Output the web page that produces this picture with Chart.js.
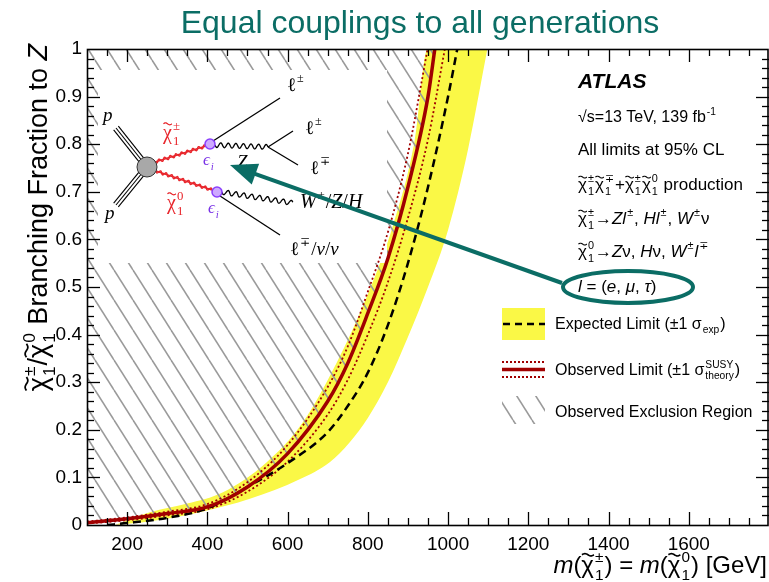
<!DOCTYPE html>
<html>
<head>
<meta charset="utf-8">
<script src="https://cdn.jsdelivr.net/npm/chart.js@4.4.1/dist/chart.umd.min.js"></script>
<style>
  html, body { margin: 0; padding: 0; background: #fff; }
</style>
</head>
<body>
<canvas id="limitChart" width="769" height="582"></canvas>
<script>
// axis ranges and tick labels
var xMin = 100, xMax = 1800;
var xTicks = [200, 400, 600, 800, 1000, 1200, 1400, 1600];
var xTickLabels = ['200', '400', '600', '800', '1000', '1200', '1400', '1600'];
var yTicks = [0, 0.1, 0.2, 0.3, 0.4, 0.5, 0.6, 0.7, 0.8, 0.9, 1];
var yTickLabels = ['0', '0.1', '0.2', '0.3', '0.4', '0.5', '0.6', '0.7', '0.8', '0.9', '1'];

// observed limit (mass in GeV, branching fraction to Z)
var obsMass = [100, 200, 300, 400, 500, 600, 700, 750, 800, 850, 900, 950, 967];
var obsBF = [0.005, 0.013, 0.024, 0.038, 0.08, 0.15, 0.26, 0.34, 0.445, 0.56, 0.71, 0.9, 1.0];

// observed +/- 1 sigma theory
var obsUpMass = [100, 200, 300, 400, 500, 600, 700, 750, 800, 850, 900, 949];
var obsUpBF = [0.007, 0.016, 0.028, 0.044, 0.09, 0.168, 0.29, 0.375, 0.49, 0.615, 0.78, 1.0];
var obsDownMass = [100, 200, 300, 400, 500, 600, 700, 750, 800, 850, 900, 950, 992];
var obsDownBF = [0.003, 0.01, 0.02, 0.033, 0.07, 0.133, 0.232, 0.305, 0.4, 0.51, 0.645, 0.81, 1.0];

// expected limit
var expMass = [150, 200, 300, 400, 500, 600, 700, 750, 800, 850, 900, 950, 1000, 1023];
var expBF = [0.0, 0.004, 0.015, 0.035, 0.08, 0.13, 0.195, 0.25, 0.32, 0.42, 0.55, 0.71, 0.9, 1.0];

// expected +/- 1 sigma band edges
var bandHighMass = [170, 257, 350, 439, 548, 638, 723, 800, 862, 917, 949, 1098];
var bandHighBF = [0.0, 0.027, 0.045, 0.069, 0.132, 0.216, 0.342, 0.485, 0.627, 0.809, 1.0, 1.0];
var bandLowMass = [170, 257, 381, 506, 630, 705, 755, 800, 850, 900, 950, 1000, 1050, 1098];
var bandLowBF = [0.0, 0.008, 0.027, 0.055, 0.096, 0.132, 0.174, 0.225, 0.3, 0.395, 0.5, 0.62, 0.79, 1.0];

var SANS = '"Liberation Sans", "DejaVu Sans", Arial, sans-serif';
var SERIF = '"Liberation Serif", "DejaVu Serif", serif';
var TEAL = '#0b6d65';
var DARKRED = '#a00000';
var YELLOW = 'rgb(250, 248, 70)';
var HATCH = '#9a9a9a';

function pts(ms, bs) {
  return ms.map(function (m, i) { return { x: m, y: bs[i] }; });
}

function makeHatch() {
  var w = 19, h = 30;
  var c = document.createElement('canvas');
  c.width = w; c.height = h;
  var g = c.getContext('2d');
  g.strokeStyle = HATCH;
  g.lineWidth = 1.6;
  [-w, 0, w].forEach(function (o) {
    g.beginPath(); g.moveTo(o, 0); g.lineTo(o + w, h); g.stroke();
  });
  return g.createPattern(c, 'repeat');
}
var hatchPattern = makeHatch();

// little wave drawn over chi
function tilde(ctx, cx, cy, w, fs) {
  ctx.save();
  ctx.strokeStyle = ctx.fillStyle;
  ctx.lineWidth = Math.max(1, fs * 0.065);
  ctx.beginPath();
  for (var i = 0; i <= 16; i++) {
    var t = i / 16;
    var px = cx - w / 2 + t * w;
    var py = cy - Math.sin(t * 2 * Math.PI) * fs * 0.05;
    if (i) ctx.lineTo(px, py); else ctx.moveTo(px, py);
  }
  ctx.stroke();
  ctx.restore();
}

// text runs with italic, chi-tilde and stacked sup/sub
function run(ctx, parts, x, y, fs, fam, draw) {
  var x0 = x;
  ctx.textAlign = 'left';
  ctx.textBaseline = 'alphabetic';
  parts.forEach(function (p) {
    if (typeof p === 'string') p = { t: p };
    var style = p.b ? 'bold italic ' : p.it ? 'italic ' : '';
    if (p.chi) {
      ctx.font = style + fs + 'px ' + fam;
      var cw = ctx.measureText('\u03c7').width;
      if (draw) {
        ctx.fillText('\u03c7', x, y);
        tilde(ctx, x + cw * 0.52, y - fs * 0.76, cw * 0.95, fs);
      }
      x += cw;
    }
    if (p.t) {
      ctx.font = style + fs + 'px ' + fam;
      if (draw) ctx.fillText(p.t, x, y);
      x += ctx.measureText(p.t).width;
    }
    if (p.sup || p.sub) {
      var s = fs * 0.64;
      ctx.font = (p.ssIt ? 'italic ' : '') + s + 'px ' + fam;
      var w1 = p.sup ? ctx.measureText(p.sup).width : 0;
      var w2 = p.sub ? ctx.measureText(p.sub).width : 0;
      if (draw) {
        if (p.sup) ctx.fillText(p.sup, x + 1, y - fs * 0.45);
        if (p.sub) ctx.fillText(p.sub, x + 1, y + fs * 0.28);
      }
      x += Math.max(w1, w2) + 2;
    }
  });
  return x - x0;
}

function rich(ctx, parts, x, y, fs, align, fam) {
  fam = fam || SANS;
  var w = run(ctx, parts, 0, y, fs, fam, false);
  var sx = align === 'right' ? x - w : align === 'center' ? x - w / 2 : x;
  run(ctx, parts, sx, y, fs, fam, true);
  return w;
}

function wavy(ctx, x1, y1, x2, y2, amp, wl) {
  var dx = x2 - x1, dy = y2 - y1, L = Math.hypot(dx, dy);
  var ux = dx / L, uy = dy / L, nx = -uy, ny = ux;
  var n = Math.max(1, Math.round(L / wl));
  ctx.beginPath();
  for (var s = 0; s <= L; s += 0.5) {
    var o = amp * Math.sin(2 * Math.PI * n * s / L);
    var px = x1 + ux * s + nx * o, py = y1 + uy * s + ny * o;
    if (s === 0) ctx.moveTo(px, py); else ctx.lineTo(px, py);
  }
  ctx.stroke();
}

function line(ctx, x1, y1, x2, y2) {
  ctx.beginPath(); ctx.moveTo(x1, y1); ctx.lineTo(x2, y2); ctx.stroke();
}

function triple(ctx, x1, y1, x2, y2) {
  var dx = x2 - x1, dy = y2 - y1, L = Math.hypot(dx, dy);
  var nx = -dy / L * 3, ny = dx / L * 3;
  [-1, 0, 1].forEach(function (k) {
    line(ctx, x1 + nx * k, y1 + ny * k, x2 + nx * k, y2 + ny * k);
  });
}

// Feynman diagram inset, covers part of the hatch
function drawInset(ctx) {
  ctx.save();
  ctx.fillStyle = '#fff';
  ctx.fillRect(98, 70, 289, 193);

  ctx.strokeStyle = '#000';
  ctx.lineWidth = 1.1;
  triple(ctx, 147, 167, 116, 128);
  triple(ctx, 147, 167, 116, 205);

  // outgoing legs
  ctx.lineWidth = 1.3;
  line(ctx, 213, 141, 280, 98);
  wavy(ctx, 215, 145, 268, 147, 2.4, 8);
  line(ctx, 268, 147, 293, 131);
  line(ctx, 268, 147, 298, 165);
  wavy(ctx, 222, 192, 293, 203, 2.4, 8);
  line(ctx, 220, 196, 280, 235);

  // gauginos
  ctx.strokeStyle = '#e8262c';
  ctx.lineWidth = 1.4;
  line(ctx, 155, 162, 206, 146);
  wavy(ctx, 155, 162, 206, 146, 1.6, 6);
  line(ctx, 156, 171, 212, 190);
  wavy(ctx, 156, 171, 212, 190, 1.6, 6);

  // blob and vertices
  ctx.fillStyle = '#a8a8a8';
  ctx.strokeStyle = '#333';
  ctx.lineWidth = 1;
  ctx.beginPath(); ctx.arc(147, 167, 10, 0, 2 * Math.PI); ctx.fill(); ctx.stroke();
  ctx.fillStyle = '#cda9ff';
  ctx.strokeStyle = '#8a3ffc';
  ctx.lineWidth = 1.5;
  ctx.beginPath(); ctx.arc(210, 144, 5, 0, 2 * Math.PI); ctx.fill(); ctx.stroke();
  ctx.beginPath(); ctx.arc(217, 192, 5, 0, 2 * Math.PI); ctx.fill(); ctx.stroke();

  // labels
  ctx.fillStyle = '#000';
  rich(ctx, [{ t: 'p', it: 1 }], 103, 121, 19, 'left', SERIF);
  rich(ctx, [{ t: 'p', it: 1 }], 105, 219, 19, 'left', SERIF);
  rich(ctx, [{ t: '\u2113', sup: '\u00b1' }], 287, 91, 19, 'left', SERIF);
  rich(ctx, [{ t: '\u2113', sup: '\u00b1' }], 305, 134, 19, 'left', SERIF);
  rich(ctx, [{ t: '\u2113', sup: '\u2213' }], 310, 174, 19, 'left', SERIF);
  rich(ctx, [{ t: 'Z', it: 1 }], 237, 168, 19, 'left', SERIF);
  rich(ctx, [{ t: 'W', it: 1, sup: '\u00b1' }, { t: '/' }, { t: 'Z', it: 1 }, { t: '/' }, { t: 'H', it: 1 }], 300, 208, 20, 'left', SERIF);
  rich(ctx, [{ t: '\u2113', sup: '\u2213' }, { t: '/' }, { t: '\u03bd', it: 1 }, { t: '/' }, { t: '\u03bd', it: 1 }], 290, 255, 19, 'left', SERIF);

  ctx.fillStyle = '#e8262c';
  rich(ctx, [{ chi: 1, sup: '\u00b1', sub: '1' }], 163, 139, 20, 'left', SERIF);
  rich(ctx, [{ chi: 1, sup: '0', sub: '1' }], 167, 209, 20, 'left', SERIF);
  ctx.fillStyle = '#7a33e6';
  rich(ctx, [{ t: '\u03f5', it: 1, sub: 'i', ssIt: 1 }], 203, 165, 17, 'left', SERIF);
  rich(ctx, [{ t: '\u03f5', it: 1, sub: 'i', ssIt: 1 }], 208, 213, 17, 'left', SERIF);
  ctx.restore();
}

// inward ticks on all four sides plus frame
function drawFrame(chart) {
  var ctx = chart.ctx, a = chart.chartArea, xs = chart.scales.x, ys = chart.scales.y;
  ctx.save();
  ctx.strokeStyle = '#000';
  ctx.lineWidth = 1.3;
  for (var m = 150; m < xMax; m += 50) {
    var px = Math.round(xs.getPixelForValue(m)) + 0.5;
    var len = m % 200 === 0 ? 13 : 7;
    line(ctx, px, a.bottom, px, a.bottom - len);
    line(ctx, px, a.top, px, a.top + len);
  }
  for (var k = 1; k < 50; k++) {
    var py = Math.round(ys.getPixelForValue(k * 0.02)) + 0.5;
    var ln = k % 5 === 0 ? 13 : 7;
    line(ctx, a.left, py, a.left + ln, py);
    line(ctx, a.right, py, a.right - ln, py);
  }
  ctx.lineWidth = 1.6;
  ctx.strokeRect(a.left + 0.5, a.top + 0.5, a.right - a.left - 1.5, a.bottom - a.top);
  ctx.restore();
}

function drawTexts(chart) {
  var ctx = chart.ctx;
  ctx.save();

  // title
  ctx.fillStyle = TEAL;
  ctx.font = '32px ' + SANS;
  ctx.textAlign = 'center';
  ctx.textBaseline = 'alphabetic';
  ctx.fillText('Equal couplings to all generations', 420, 33);

  ctx.fillStyle = '#000';
  // x title
  rich(ctx, [{ t: 'm', it: 1 }, '(', { chi: 1, sup: '\u00b1', sub: '1' }, ') = ', { t: 'm', it: 1 }, '(',
    { chi: 1, sup: '0', sub: '1' }, ') [GeV]'], 767, 573, 24, 'right');

  // y title
  ctx.save();
  ctx.translate(47, 44);
  ctx.rotate(-Math.PI / 2);
  rich(ctx, [{ chi: 1, sup: '\u00b1', sub: '1' }, '/', { chi: 1, sup: '0', sub: '1' }, ' Branching Fraction to ',
    { t: 'Z', it: 1 }], 0, 0, 27, 'right');
  ctx.restore();

  // ATLAS block
  var tx = 578;
  rich(ctx, [{ t: 'ATLAS', b: 1 }], tx, 88, 21);
  rich(ctx, ['\u221as=13 TeV, 139 fb', { sup: '-1' }], tx, 122, 16);
  rich(ctx, ['All limits at 95% CL'], tx, 155, 17);
  rich(ctx, [{ chi: 1, sup: '\u00b1', sub: '1' }, { chi: 1, sup: '\u2213', sub: '1' }, '+',
    { chi: 1, sup: '\u00b1', sub: '1' }, { chi: 1, sup: '0', sub: '1' }, ' production'], tx, 190, 17);
  rich(ctx, [{ chi: 1, sup: '\u00b1', sub: '1' }, '\u2192', { t: 'Z', it: 1 }, { t: 'l', it: 1, sup: '\u00b1' },
    ', ', { t: 'H', it: 1 }, { t: 'l', it: 1, sup: '\u00b1' }, ', ', { t: 'W', it: 1, sup: '\u00b1' }, '\u03bd'], tx, 224, 17);
  rich(ctx, [{ chi: 1, sup: '0', sub: '1' }, '\u2192', { t: 'Z', it: 1 }, '\u03bd, ', { t: 'H', it: 1 }, '\u03bd, ',
    { t: 'W', it: 1, sup: '\u00b1' }, { t: 'l', it: 1, sup: '\u2213' }], tx, 257, 17);
  rich(ctx, [{ t: 'l', it: 1 }, ' = (', { t: 'e', it: 1 }, ', ', { t: '\u03bc', it: 1 }, ', ', { t: '\u03c4', it: 1 }, ')'],
    tx, 292, 17);

  // legend
  ctx.fillStyle = YELLOW;
  ctx.fillRect(502, 308, 43, 32);
  ctx.strokeStyle = '#000';
  ctx.lineWidth = 2.5;
  ctx.setLineDash([7, 5]);
  line(ctx, 503, 324, 545, 324);
  ctx.setLineDash([2, 2]);
  ctx.strokeStyle = DARKRED;
  ctx.lineWidth = 1.8;
  line(ctx, 502, 362, 545, 362);
  line(ctx, 502, 377, 545, 377);
  ctx.setLineDash([]);
  ctx.lineWidth = 3.5;
  line(ctx, 502, 369.5, 545, 369.5);
  ctx.save();
  ctx.beginPath(); ctx.rect(502, 396, 43, 28); ctx.clip();
  ctx.fillStyle = hatchPattern;
  ctx.fillRect(502, 396, 43, 28);
  ctx.restore();

  ctx.fillStyle = '#000';
  rich(ctx, ['Expected Limit (\u00b11 ', { t: '\u03c3', sub: 'exp' }, ')'], 555, 329, 16);
  rich(ctx, ['Observed Limit (\u00b11 ', { t: '\u03c3', sup: 'SUSY', sub: 'theory' }, ')'], 555, 375, 16);
  rich(ctx, ['Observed Exclusion Region'], 555, 417, 16);

  // ellipse and arrow
  ctx.strokeStyle = TEAL;
  ctx.fillStyle = TEAL;
  ctx.lineWidth = 4;
  ctx.beginPath();
  ctx.ellipse(628, 287, 65, 16, 0, 0, 2 * Math.PI);
  ctx.stroke();
  var tailX = 562, tailY = 283, tipX = 230, tipY = 165;
  var dx = tipX - tailX, dy = tipY - tailY, L = Math.hypot(dx, dy);
  var ux = dx / L, uy = dy / L, hl = 27, hw = 11;
  var bx = tipX - ux * hl, by = tipY - uy * hl;
  line(ctx, tailX, tailY, bx + ux * 2, by + uy * 2);
  ctx.beginPath();
  ctx.moveTo(tipX, tipY);
  ctx.lineTo(bx - uy * hw, by + ux * hw);
  ctx.lineTo(bx + uy * hw, by - ux * hw);
  ctx.closePath();
  ctx.fill();

  ctx.restore();
}

var decorPlugin = {
  id: 'decor',
  afterDatasetDraw: function (chart, args) {
    if (args.index === 4) drawInset(chart.ctx);
  },
  afterDraw: function (chart) {
    drawFrame(chart);
    drawTexts(chart);
  }
};

var ctxMain = document.getElementById('limitChart');
var limitChart = new Chart(ctxMain, {
  type: 'line',
  data: {
    datasets: [
      { label: 'Observed', data: pts(obsMass, obsBF), borderColor: DARKRED, borderWidth: 3.5, order: 0 },
      { label: 'Expected', data: pts(expMass, expBF), borderColor: '#000', borderWidth: 2.5, borderDash: [8, 5], order: 1 },
      { label: 'Obs up', data: pts(obsUpMass, obsUpBF), borderColor: DARKRED, borderWidth: 1.8, borderDash: [2, 2.5], order: 2 },
      { label: 'Obs down', data: pts(obsDownMass, obsDownBF), borderColor: DARKRED, borderWidth: 1.8, borderDash: [2, 2.5], order: 3 },
      { label: 'Exclusion', data: pts(obsMass, obsBF), borderWidth: 0, borderColor: 'rgba(0,0,0,0)', backgroundColor: hatchPattern, fill: 'end', order: 5 },
      { label: 'Band high', data: pts(bandHighMass, bandHighBF), borderWidth: 0, borderColor: 'rgba(0,0,0,0)', order: 7 },
      { label: 'Band low', data: pts(bandLowMass, bandLowBF), borderWidth: 0, borderColor: 'rgba(0,0,0,0)', backgroundColor: YELLOW, fill: 5, order: 6 }
    ]
  },
  options: {
    responsive: false,
    animation: false,
    events: [],
    layout: { padding: { top: 49, right: 0, left: 0, bottom: 0 } },
    elements: {
      point: { radius: 0 },
      line: { cubicInterpolationMode: 'monotone' }
    },
    plugins: {
      legend: { display: false },
      tooltip: { enabled: false }
    },
    scales: {
      x: {
        type: 'linear',
        min: xMin,
        max: xMax,
        grid: { display: false, drawTicks: false },
        border: { display: false },
        afterBuildTicks: function (s) { s.ticks = xTicks.map(function (v) { return { value: v }; }); },
        afterFit: function (s) { s.height = 57; },
        ticks: {
          autoSkip: false,
          maxRotation: 0,
          padding: 8,
          color: '#000',
          font: { family: SANS, size: 19 },
          callback: function (v, i) { return xTickLabels[i]; }
        }
      },
      y: {
        min: 0,
        max: 1,
        grid: { display: false, drawTicks: false },
        border: { display: false },
        afterBuildTicks: function (s) { s.ticks = yTicks.map(function (v) { return { value: v }; }); },
        afterFit: function (s) { s.width = 87; },
        ticks: {
          padding: 5,
          color: '#000',
          font: { family: SANS, size: 19 },
          callback: function (v, i) { return yTickLabels[i]; }
        }
      }
    }
  },
  plugins: [decorPlugin]
});
</script>
</body>
</html>
